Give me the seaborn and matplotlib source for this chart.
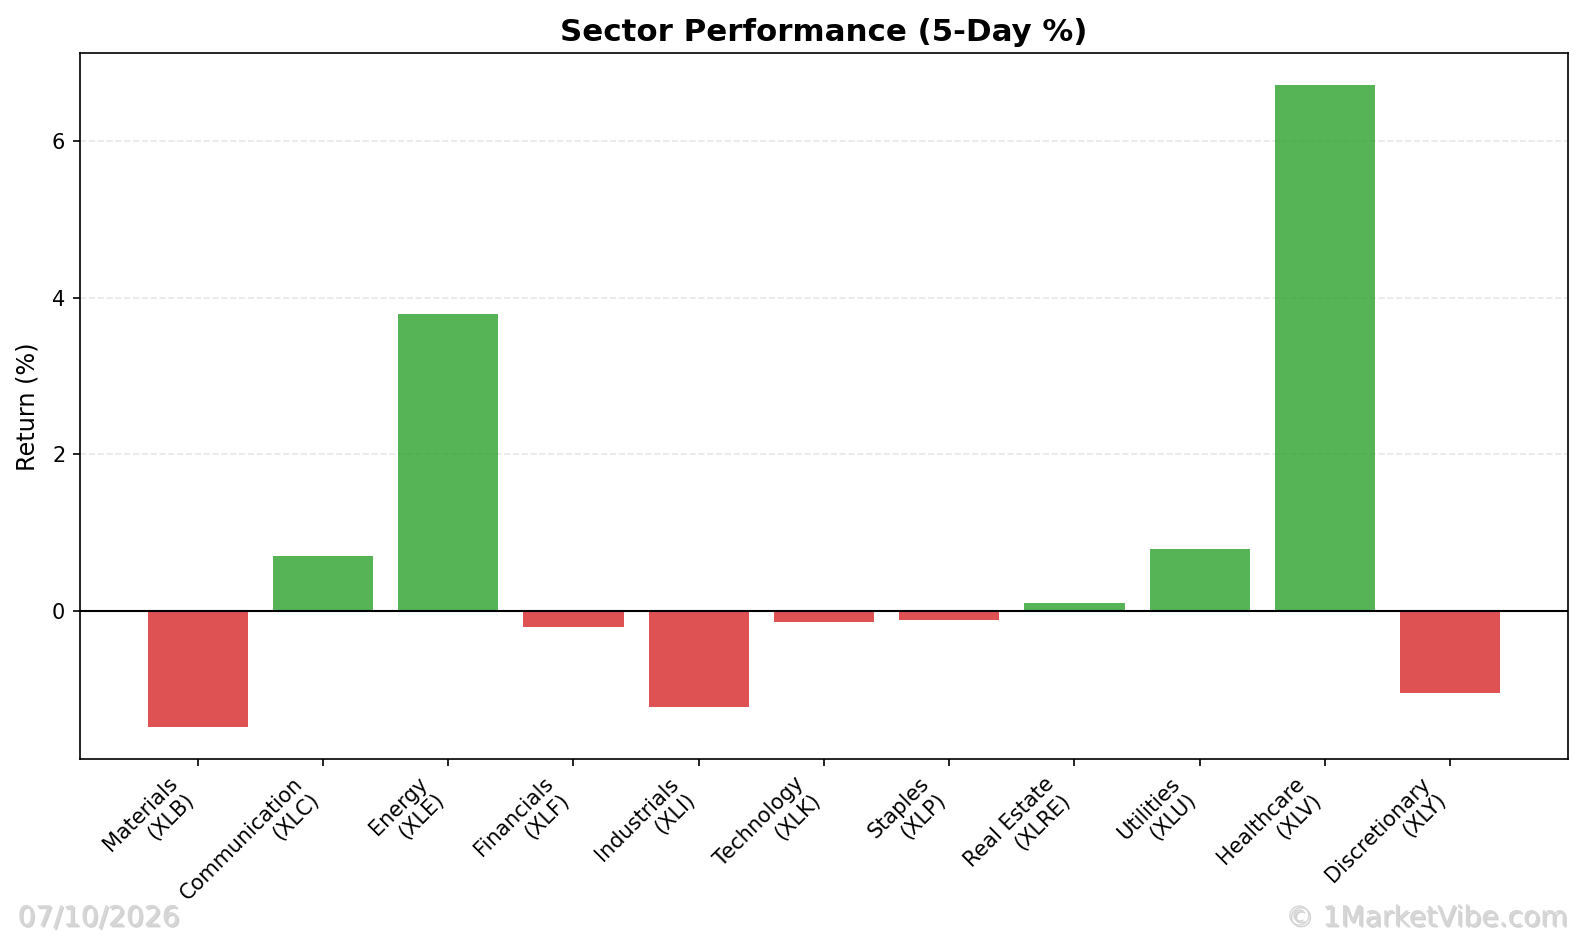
import matplotlib
matplotlib.use("Agg")
import matplotlib.pyplot as plt
import matplotlib.patheffects as pe
import seaborn as sns
import pandas as pd

# sector data (5-day returns, %)
sectors = ["Materials", "Communication", "Energy", "Financials", "Industrials",
           "Technology", "Staples", "Real Estate", "Utilities", "Healthcare",
           "Discretionary"]
tickers = ["XLB", "XLC", "XLE", "XLF", "XLI", "XLK", "XLP", "XLRE", "XLU", "XLV", "XLY"]
returns = [-1.48, 0.70, 3.79, -0.21, -1.23, -0.14, -0.12, 0.10, 0.79, 6.71, -1.05]

labels = ["{}\n({})".format(s, t) for s, t in zip(sectors, tickers)]
df = pd.DataFrame({"Sector": labels, "Return": returns})
colors = ["tab:green" if r >= 0 else "tab:red" for r in returns]

fig, ax = plt.subplots(figsize=(1583 / 150, 937 / 150), dpi=150)

sns.barplot(x="Sector", y="Return", hue="Sector", data=df, palette=colors,
            saturation=1, alpha=0.8, legend=False, width=0.8, ax=ax)
ax.axhline(0, color="black", linewidth=1)
ax.grid(axis="y", linestyle="--", alpha=0.3)
ax.set_axisbelow(True)

# same padding as a plain matplotlib bar chart (5% margins)
n = len(labels)
pad = 0.05 * (n - 1 + 0.8)
ax.set_xlim(-0.4 - pad, n - 1 + 0.4 + pad)

ax.set_title("Sector Performance (5-Day %)", fontsize=14.8, fontweight="bold")
ax.set_ylabel("Return (%)", fontsize=11.5, labelpad=6)
ax.set_xlabel("")
ax.set_xticks(range(n))
ax.set_xticklabels(labels, rotation=45, ha="right", fontsize=10)

fig.subplots_adjust(left=0.0505, right=0.9905, top=0.943, bottom=0.19)

shadow = [pe.SimplePatchShadow(offset=(0.8, -0.8), shadow_rgbFace="#999999", alpha=0.45),
          pe.Normal()]
fig.text(0.011, 0.012, "07/10/2026", fontsize=13.5, color="#d6d6d6",
         path_effects=shadow)
fig.text(0.990, 0.012, "\u00a9 1MarketVibe.com", fontsize=13.5, color="#d6d6d6",
         ha="right", path_effects=shadow)

plt.savefig("out.png", dpi=150)
